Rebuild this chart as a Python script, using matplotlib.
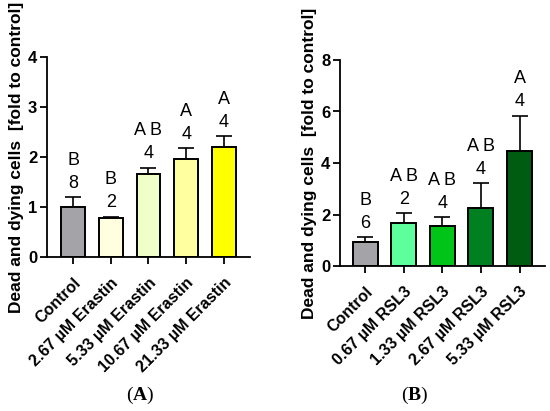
import matplotlib

matplotlib.use("Agg")
import matplotlib.pyplot as plt

plt.rcParams["font.family"] = ["Liberation Sans", "DejaVu Sans"]
plt.rcParams["mathtext.fontset"] = "custom"
plt.rcParams["mathtext.rm"] = "Liberation Serif"
plt.rcParams["mathtext.bf"] = "Liberation Serif:bold"

# panel A: erastin
erastin_labels = ["Control", "2.67 µM Erastin", "5.33 µM Erastin",
                  "10.67 µM Erastin", "21.33 µM Erastin"]
erastin_means = [1.0, 0.775, 1.66, 1.96, 2.2]
erastin_sd = [0.2, 0.035, 0.13, 0.22, 0.21]
erastin_n = ["8", "2", "4", "4", "4"]
erastin_groups = ["B", "B", "A B", "A", "A"]
erastin_colors = ["#a4a4a8", "#ffffe0", "#f0ffc8", "#ffffa0", "#ffff00"]

# panel B: RSL3
rsl3_labels = ["Control", "0.67 µM RSL3", "1.33 µM RSL3",
               "2.67 µM RSL3", "5.33 µM RSL3"]
rsl3_means = [0.95, 1.68, 1.55, 2.27, 4.48]
rsl3_sd = [0.17, 0.36, 0.34, 0.95, 1.36]
rsl3_n = ["6", "2", "4", "4", "4"]
rsl3_groups = ["B", "A B", "A B", "A B", "A"]
rsl3_colors = ["#a4a4a8", "#5cff9c", "#00c418", "#008020", "#005c10"]


def draw_panel(ax, labels, means, sd, n, groups, colors, ymax, ystep, xlim, width):
    xs = list(range(len(labels)))
    ax.bar(xs, means, width=width, color=colors, edgecolor="black",
           linewidth=1.4, zorder=2)
    ax.errorbar(xs, means, yerr=[[0] * len(sd), sd], fmt="none",
                ecolor="black", elinewidth=1.2, capsize=6, capthick=1.2,
                zorder=1)
    for x, m, s, nn, g in zip(xs, means, sd, n, groups):
        top = m + s
        ax.annotate(nn, (x, top), xytext=(0, 10), textcoords="offset points",
                    ha="center", va="center", fontsize=13)
        ax.annotate(g, (x, top), xytext=(0, 26.5), textcoords="offset points",
                    ha="center", va="center", fontsize=13)
    ax.set_xlim(*xlim)
    ax.set_ylim(0, ymax)
    ax.set_yticks(range(0, ymax + 1, ystep))
    ax.set_xticks(xs)
    ax.set_xticklabels(labels, rotation=45, ha="right", rotation_mode="anchor",
                       fontweight="bold", fontsize=11.5)
    for lab in ax.get_yticklabels():
        lab.set_fontweight("bold")
        lab.set_fontsize(12)
    ax.spines["top"].set_visible(False)
    ax.spines["right"].set_visible(False)
    ax.spines["left"].set_linewidth(1.3)
    ax.spines["bottom"].set_linewidth(1.3)
    ax.tick_params(direction="out", length=5, width=1.3, pad=2)
    ax.tick_params(axis="x", pad=8)
    ax.set_ylabel("Dead and dying cells  [fold to control]", fontweight="bold",
                  fontsize=12.5, labelpad=3)


fig = plt.figure(figsize=(5.5, 4.11), dpi=100)
ax1 = fig.add_axes([47 / 550, 154 / 411, 203 / 550, 200 / 411])
ax2 = fig.add_axes([340 / 550, 145 / 411, 205 / 550, 206 / 411])

draw_panel(ax1, erastin_labels, erastin_means, erastin_sd, erastin_n,
           erastin_groups, erastin_colors, 4, 1, (-0.69, 4.69), 0.63)
draw_panel(ax2, rsl3_labels, rsl3_means, rsl3_sd, rsl3_n,
           rsl3_groups, rsl3_colors, 8, 2, (-0.65, 4.66), 0.65)

fig.text(140 / 550, 1 - 395 / 411, r"$\mathrm{(}\mathbf{A}\mathrm{)}$",
         ha="center", va="center", fontsize=14)
fig.text(415 / 550, 1 - 395 / 411, r"$\mathrm{(}\mathbf{B}\mathrm{)}$",
         ha="center", va="center", fontsize=14)

fig.savefig("out.png", dpi=100)
